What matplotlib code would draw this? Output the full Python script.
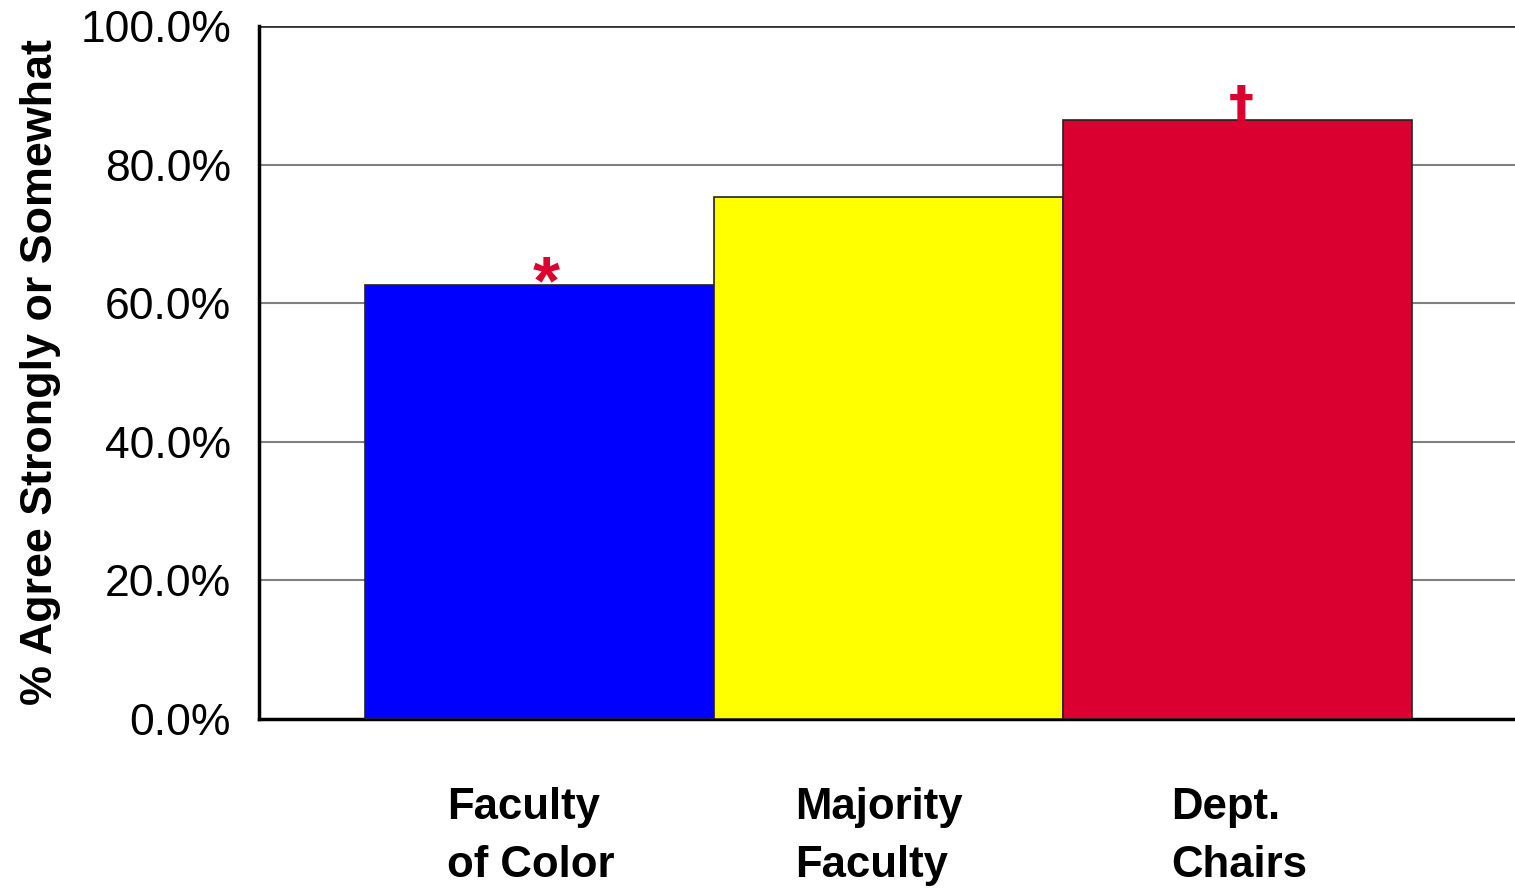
import matplotlib.pyplot as plt
import numpy as np

plt.rcParams['font.family'] = ['Liberation Sans', 'DejaVu Sans']

groups = ["Faculty\nof Color", "Majority\nFaculty", "Dept.\nChairs"]
values = [62.6, 75.3, 86.4]
colors = ["#0000FF", "#FFFF00", "#DA0030"]
marks = ["*", "", "\u2020"]
yticks = [0, 20, 40, 60, 80, 100]

if __name__ == "__main__":
    fig = plt.figure(figsize=(15.15, 8.89), dpi=100)
    ax = fig.add_axes([259 / 1515, 1 - 719 / 889, (1518 - 259) / 1515, 693 / 889])

    x = np.arange(len(values))
    ax.bar(x, values, width=1.0, color=colors, edgecolor="#222222",
           linewidth=1.2, zorder=3)
    gap = 106 / 349
    ax.set_xlim(-0.5 - gap, len(values) - 0.5 + gap)
    ax.set_ylim(0, 100)

    ax.set_yticks(yticks)
    ax.set_yticklabels([f"{v:.1f}%" for v in yticks], fontsize=32)
    ax.tick_params(axis="y", length=0, pad=20)
    ax.set_xticks([])
    for v in yticks[1:-1]:
        ax.axhline(v, color="#808080", lw=1.5, zorder=1)
    ax.axhline(100, color="#333333", lw=2, zorder=1)

    for s in ["top", "right"]:
        ax.spines[s].set_visible(False)
    ax.spines["left"].set_linewidth(2.5)
    ax.spines["bottom"].set_linewidth(2.5)

    ax.set_ylabel("% Agree Strongly or Somewhat", fontsize=32.3,
                  fontweight="bold", labelpad=14)

    # significance marks above bars
    for xi, v, m in zip(x, values, marks):
        if m == "*":
            ax.text(xi + 0.02, v - 4.6, m, color="#DA0030", fontsize=50,
                    fontweight="bold", ha="center", va="bottom")
        elif m:
            ax.text(xi + 0.01, v - 1.6, m, color="#DA0030", fontsize=36,
                    fontweight="bold", family="DejaVu Sans",
                    ha="center", va="bottom", zorder=4)

    label_x = [447, 795, 1171]
    for lx, g in zip(label_x, groups):
        fig.text(lx / 1515, 1 - 787 / 889, g, fontsize=31.5, fontweight="bold",
                 ha="left", va="top", linespacing=1.52)

    fig.savefig("out.png", dpi=100)
